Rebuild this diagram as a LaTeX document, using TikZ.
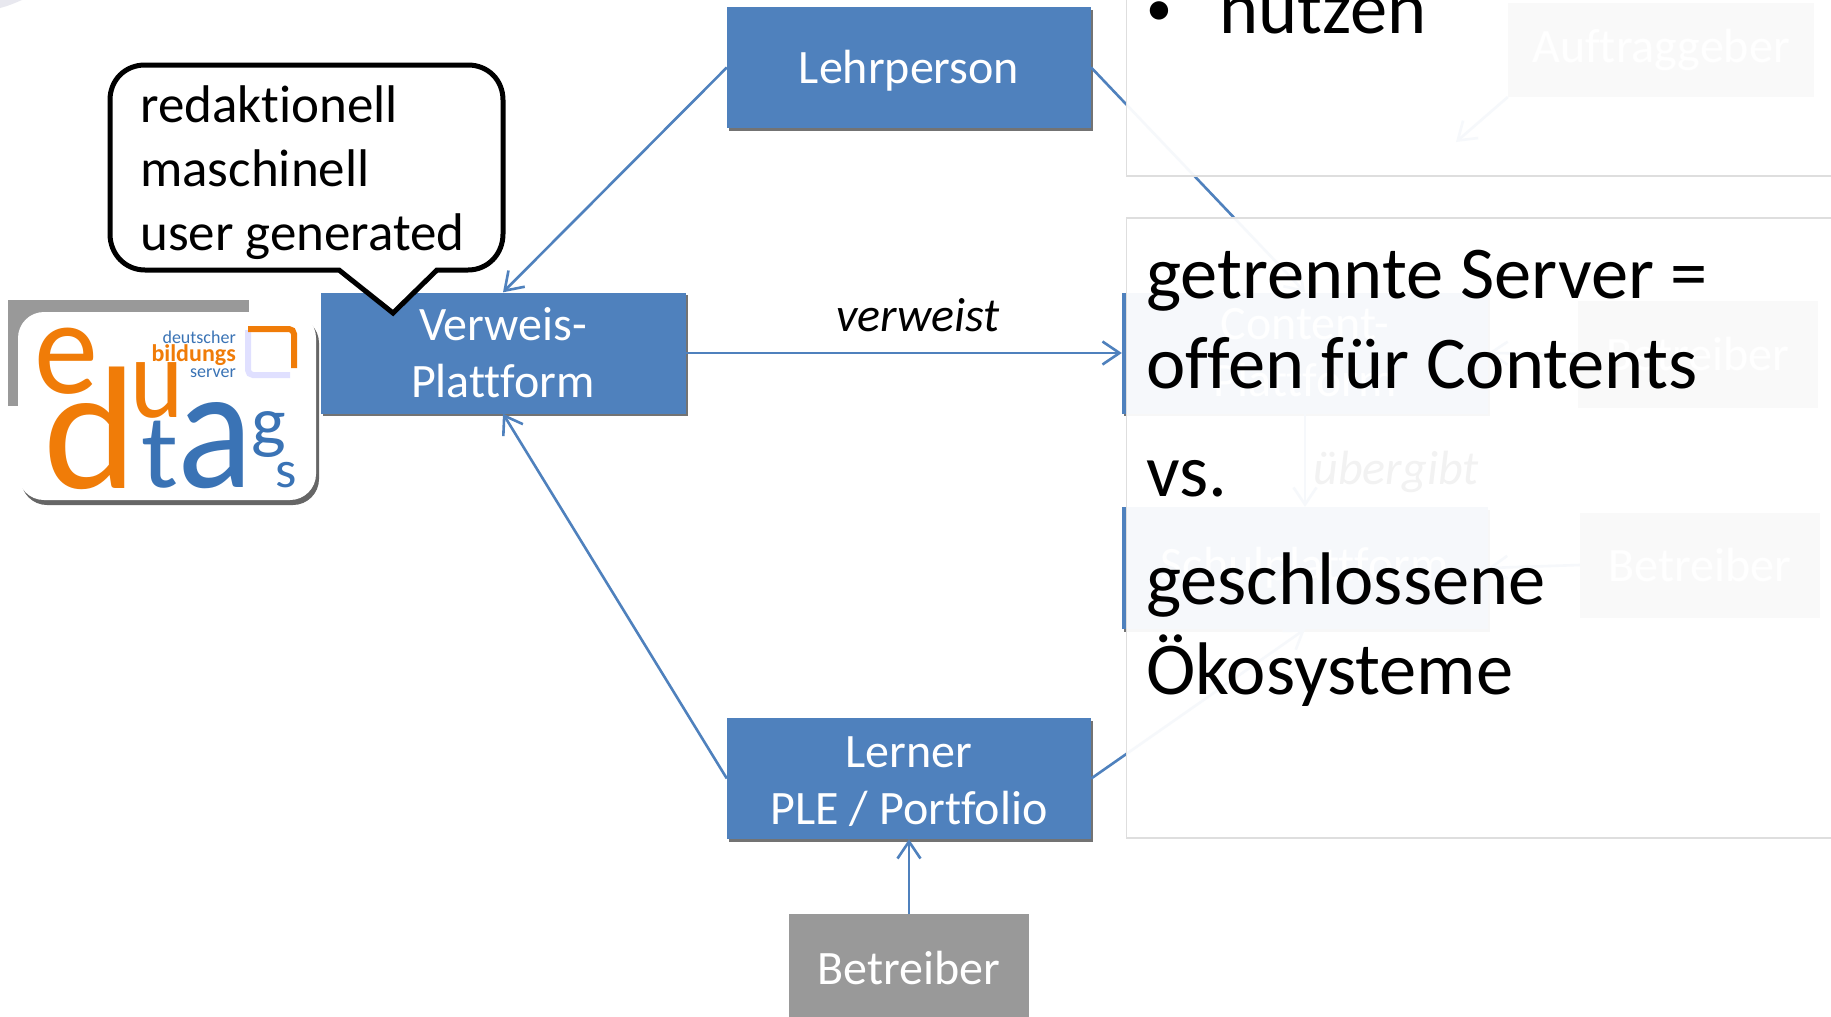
\documentclass[tikz,border=0pt]{standalone}
\usepackage{fontspec}
\setmainfont{Carlito}[Ligatures=NoCommon]
\usetikzlibrary{arrows.meta,shadows}
\definecolor{boxblue}{HTML}{4F81BD}
\definecolor{boxgray}{HTML}{999999}
\definecolor{logoorange}{HTML}{F07C08}
\definecolor{logoblue}{HTML}{3A73B5}
\tikzset{
    link/.style={draw=boxblue, line width=2.6pt, -{Straight Barb[length=17pt,width=23pt]}},
    bluebox/.style={fill=boxblue, text=white, align=center, inner sep=0pt, font=\fontsize{48}{57}\selectfont,
        drop shadow={shadow xshift=2pt, shadow yshift=-2.5pt, opacity=.55, fill=black}},
    graybox/.style={fill=boxgray, text=white, align=center, inner sep=0pt, font=\fontsize{48}{57}\selectfont},
    oneline/.style={text height=36pt, text depth=4pt},
    panel/.style={fill=white, fill opacity=.95, draw=black!13, line width=1.5pt},
    logoletter/.style={inner sep=0pt, anchor=base, font=\fontsize{#1}{#1}\selectfont},
}
\begin{document}
\begin{tikzpicture}[x=1pt, y=-1pt]
    \clip (0,0) rectangle (1831,1017);
    \fill[white] (0,0) rectangle (1831,1017);
    \fill[blue!30!black!9] (0,0) -- (22,0) .. controls (15,3) and (8,6) .. (0,8) -- cycle;

    % left side
    \node[bluebox, oneline, minimum width=364pt, minimum height=121pt] (lehrperson) at (909,67.5) {Lehrperson};
    \node[bluebox, minimum width=365pt, minimum height=121pt] (verweis) at (503,353) {Verweis-\\Plattform};
    \node[bluebox, minimum width=364pt, minimum height=121pt] (lerner) at (909,778.5) {\rule{0pt}{38pt}Lerner\\PLE / Portfolio};
    \node[graybox, minimum width=240pt, minimum height=108pt, anchor=north] (betreiber) at (909,914) {Betreiber};

    % hidden part of the slide
    \node[bluebox, minimum width=366pt, minimum height=121pt] (content) at (1305,353) {Content-\\Plattform};
    \node[bluebox, minimum width=366pt, minimum height=122pt] (schule) at (1305,568) {Schulplattform};
    \node[graybox, minimum width=306pt, minimum height=94pt, anchor=south] (auftrag) at (1661,97) {Auftraggeber};
    \node[graybox, minimum width=240pt, minimum height=107pt] (betreiberA) at (1698,354) {Betreiber};
    \node[graybox, minimum width=240pt, minimum height=105pt] (betreiberB) at (1700,565) {Betreiber};
    \coordinate (auftragEnd) at (1456,142);

    \draw[link] (lehrperson.west) -- (verweis.north);
    \draw[link] (lerner.west) -- (verweis.south);
    \draw[link] (betreiber.north) -- (lerner.south);
    \draw[link] (verweis.east) -- node[above=17pt, xshift=14pt, font=\fontsize{48}{50}\selectfont\itshape] (verweist) {verweist} (content.west);
    \draw[link] (lehrperson.east) -- (content.north);
    \draw[link] (lerner.east) -- (schule.south);
    \draw[link] (content.south) -- node[right=4pt, yshift=-12pt, text=black, font=\fontsize{48}{50}\selectfont\itshape] (uebergibt) {übergibt} (schule.north);
    \draw[link] (betreiberA.west) -- (content.east);
    \draw[link] (betreiberB.west) -- (schule.east);
    \draw[link] (auftrag.south west) -- (auftragEnd);

    % overlay panels
    \draw[panel] (1126.5,-20) rectangle (1860,176);
    \draw[panel] (1126.5,218) rectangle (1860,838);

    \node[inner sep=0pt, anchor=base, font=\fontsize{52}{52}\selectfont] (bullet) at (1159,25) {•};
    \node[inner sep=0pt, anchor=base west, font=\fontsize{74.5}{74.5}\selectfont] (nutzen) at (1219,33) {nutzen};
    \node[inner sep=0pt, anchor=north west, align=left, font=\fontsize{74.5}{90}\selectfont] (compare) at (1146,250)
        {getrennte Server =\\offen für Contents\\[18pt]vs.\\[18pt]geschlossene\\Ökosysteme};

    % logo
    \fill[boxgray] (8,300) rectangle (249,406);
    \node[fill=white, rounded corners=26pt, minimum width=298pt, minimum height=188pt, inner sep=0pt,
        drop shadow={shadow xshift=3pt, shadow yshift=-5pt, opacity=.6, fill=black}] (logo) at (167,406) {};
    \node[logoletter=135, text=logoorange, xscale=.95] (logoE) at (66,393) {e};
    \node[logoletter=175, text=logoorange, xscale=1.02] (logoD) at (90,488) {d};
    \node[logoletter=115, text=logoorange, xscale=.88] (logoU) at (157,417) {u};
    \node[logoletter=105, text=logoblue, xscale=1.05] (logoT) at (160,487) {t};
    \node[logoletter=175, text=logoblue, xscale=.9] (logoA) at (215,487) {a};
    \node[logoletter=70, text=logoblue, xscale=1.05] (logoG) at (269,445) {g};
    \node[logoletter=52, text=logoblue, xscale=1.05] (logoS) at (286,487) {s};
    \node[inner sep=0pt, anchor=base east, text=logoblue, font=\fontsize{18}{18}\selectfont] (logoLineA) at (236,343) {deutscher};
    \node[inner sep=0pt, anchor=base east, text=logoorange, font=\fontsize{24}{24}\selectfont\bfseries] (logoLineB) at (236,361) {bildungs};
    \node[inner sep=0pt, anchor=base east, text=logoblue, font=\fontsize{18}{18}\selectfont] (logoLineC) at (236,377) {server};
    \draw[draw=blue!12, line width=6pt, rounded corners=5pt] (248,330) -- (248,375) -- (290,375);
    \draw[draw=logoorange, line width=6pt, rounded corners=5pt] (248,329) -- (294,329) -- (294,368);

    % callout
    \draw[fill=white, line width=5pt, miter limit=10] (145,65) -- (468,65) .. controls (488,65) and (503,80) .. (503,100)
        -- (503,234) .. controls (503,254) and (488,270) .. (468,270) -- (437,270) -- (393,313) -- (339,270)
        -- (145,270) .. controls (125,270) and (110,254) .. (110,234) -- (110,100) .. controls (110,80) and (125,65) .. (145,65) -- cycle;
    \node[inner sep=0pt, anchor=north west, align=left, font=\fontsize{53}{64}\selectfont] (quality) at (140,85)
        {redaktionell\\maschinell\\user generated};
\end{tikzpicture}
\end{document}
